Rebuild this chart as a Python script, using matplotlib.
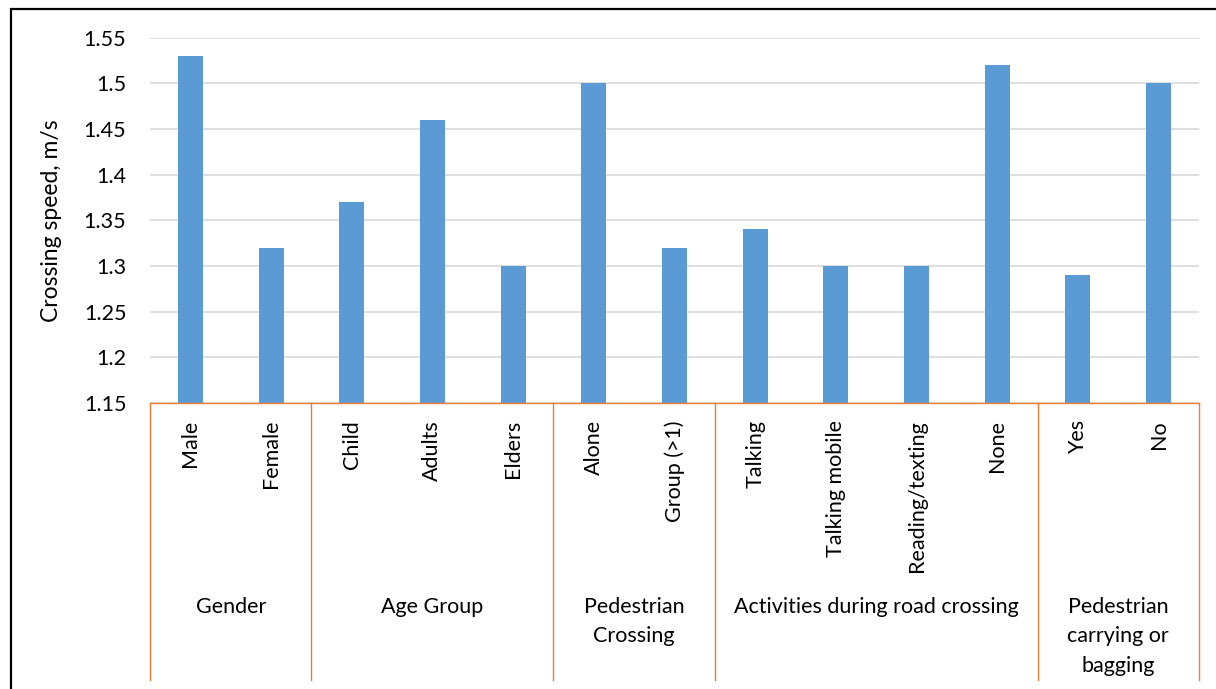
import matplotlib
matplotlib.use("Agg")
import matplotlib.pyplot as plt
from matplotlib.transforms import blended_transform_factory
from matplotlib.patches import Rectangle

categories = ["Male", "Female", "Child", "Adults", "Elders", "Alone", "Group (>1)",
              "Talking", "Talking mobile", "Reading/texting", "None", "Yes", "No"]
speeds = [1.53, 1.32, 1.37, 1.46, 1.30, 1.50, 1.32, 1.34, 1.30, 1.30, 1.52, 1.29, 1.50]
groups = ["Gender", "Age Group", "Pedestrian\nCrossing",
          "Activities during road crossing", "Pedestrian\ncarrying or\nbagging"]
group_sizes = [2, 3, 2, 4, 2]
yticks = [1.15, 1.2, 1.25, 1.3, 1.35, 1.4, 1.45, 1.5, 1.55]

plt.rcParams['font.family'] = ['Lato', 'DejaVu Sans']
FS = 15.5

W, H = 1216, 689
fig = plt.figure(figsize=(W / 100, H / 100), dpi=100)
ax = fig.add_axes([150 / W, 1 - 403 / H, (1199 - 150) / W, (403 - 37.5) / H])

x = list(range(len(categories)))
ax.bar(x, speeds, width=0.31, color="#5B9BD5", zorder=3)
ax.set_xlim(-0.5, len(categories) - 0.5)
ax.set_ylim(1.15, 1.55)
ax.set_yticks(yticks)
ax.set_yticklabels([f"{v:g}" for v in yticks], fontsize=FS)
ax.tick_params(axis="y", length=0, pad=17)
ax.tick_params(axis="x", length=0, labelbottom=False)
ax.yaxis.grid(True, color="#D9D9D9", linewidth=1.2, zorder=0)
ax.set_axisbelow(True)
for s in ("left", "right", "top"):
    ax.spines[s].set_visible(False)
ax.spines["bottom"].set_color("#ED7D31")
ax.spines["bottom"].set_linewidth(1.0)
ax.spines["bottom"].set_zorder(4)

ax.set_ylabel("Crossing speed, m/s", fontsize=16.5)
ax.yaxis.set_label_coords(-(150 - 62) / (1199 - 150), 0.5)

trans = blended_transform_factory(ax.transData, ax.transAxes)
ax_h = 403 - 37.5
bottom_frac = -(680 - 403) / ax_h
label_top = -(420 - 403) / ax_h
group_top = -(597 - 403) / ax_h

# Category labels under each bar
for xi, name in zip(x, categories):
    ax.text(xi, label_top, name, rotation=90, ha="center", va="top",
            fontsize=FS, transform=trans, clip_on=False)

# Group separators and group names
start = 0
bounds = [-0.5]
for name, n in zip(groups, group_sizes):
    end = start + n
    bounds.append(end - 0.5)
    center = (start + end - 1) / 2
    ax.text(center, group_top, name, ha="center", va="top", fontsize=FS,
            linespacing=1.58, multialignment="center", transform=trans, clip_on=False)
    start = end
for b in bounds:
    ax.plot([b, b], [0, bottom_frac], color="#ED7D31", linewidth=1.0,
            transform=trans, clip_on=False)

# Outer frame of the chart area
fig.patches.append(Rectangle((10.5 / W, -0.1), 1.2, 1 - 9 / H + 0.1,
                             transform=fig.transFigure, fill=False,
                             edgecolor="black", linewidth=1.6))

fig.savefig("out.png", dpi=100)
